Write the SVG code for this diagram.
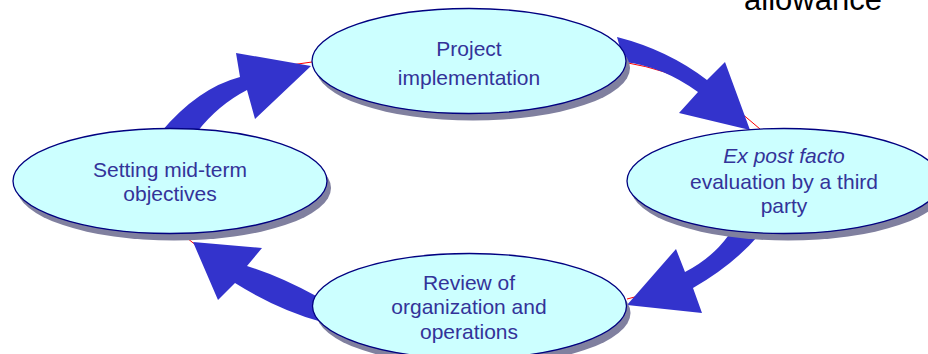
<svg xmlns="http://www.w3.org/2000/svg" xmlns:xlink="http://www.w3.org/1999/xlink" width="928" height="354" viewBox="0 0 928 354">
  <style>
    .shadow { fill: #80809f; }
    .oval { fill: #ccffff; stroke: #000080; stroke-width: 1.3; }
    .label { font-family: "Liberation Sans", Arial, sans-serif; font-size: 21px; fill: #333399; text-anchor: middle; }
    .arrow { fill: #3333cc; }
    .guide { fill: none; stroke: #ff0000; stroke-width: 1; }
    .note { font-family: "Liberation Sans", Arial, sans-serif; font-size: 31px; fill: #000000; text-anchor: middle; }
  </style>
  <defs>
    <ellipse id="oval" cx="0" cy="0" rx="157" ry="52.5"/>
  </defs>

  <rect x="0" y="0" width="928" height="354" fill="#ffffff"/>

  <!-- caption cut off at the top edge -->
  <text class="note" x="813" y="10">allowance</text>

  <!-- cycle connectors: thin guide curves under thick block arrows -->
  <g id="connectors">
    <path class="guide" d="M185,129 Q230,70 312,62"/>
    <path class="guide" d="M628,63 Q700,75 760,129"/>
    <path class="guide" d="M745,236 Q710,280 627,299"/>
    <path class="guide" d="M318,310 Q230,275 187,238"/>

    <!-- objectives -> implementation -->
    <path class="arrow" d="M161,132 Q198,88 240,77 L236,53 L311,66 L255,119 L247,90 Q218,105 197,132 Z"/>
    <!-- implementation -> evaluation -->
    <path class="arrow" d="M617,37 Q668,50 707,80 L725,62 L750,130 L679,113 L698,92 Q662,66 624,62 Z"/>
    <!-- evaluation -> review -->
    <path class="arrow" d="M758,236 Q733,265 693,288 L702,313 L627,305 L676,249 L685,272 Q712,258 728,236 Z"/>
    <!-- review -> objectives -->
    <path class="arrow" d="M318,297 Q280,276 247,266 L262,248 L193,242 L218,300 L235,283 Q278,310 322,322 Z"/>
  </g>

  <g id="node-implementation">
    <use xlink:href="#oval" class="shadow" transform="translate(473,68)"/>
    <use xlink:href="#oval" class="oval" transform="translate(469,61)"/>
    <text class="label" x="469" y="56">Project</text>
    <text class="label" x="469" y="85">implementation</text>
  </g>

  <g id="node-evaluation">
    <use xlink:href="#oval" class="shadow" transform="translate(788,188)"/>
    <use xlink:href="#oval" class="oval" transform="translate(784,181)"/>
    <text class="label" x="784" y="163"><tspan font-style="italic">Ex post facto</tspan></text>
    <text class="label" x="784" y="189">evaluation by a third</text>
    <text class="label" x="784" y="213">party</text>
  </g>

  <g id="node-review">
    <use xlink:href="#oval" class="shadow" transform="translate(473.5,313)"/>
    <use xlink:href="#oval" class="oval" transform="translate(469.5,306)"/>
    <text class="label" x="469" y="290">Review of</text>
    <text class="label" x="469" y="314">organization and</text>
    <text class="label" x="469" y="339">operations</text>
  </g>

  <g id="node-objectives">
    <use xlink:href="#oval" class="shadow" transform="translate(174,188)"/>
    <use xlink:href="#oval" class="oval" transform="translate(170,181)"/>
    <text class="label" x="170" y="177">Setting mid-term</text>
    <text class="label" x="170" y="201">objectives</text>
  </g>
</svg>
